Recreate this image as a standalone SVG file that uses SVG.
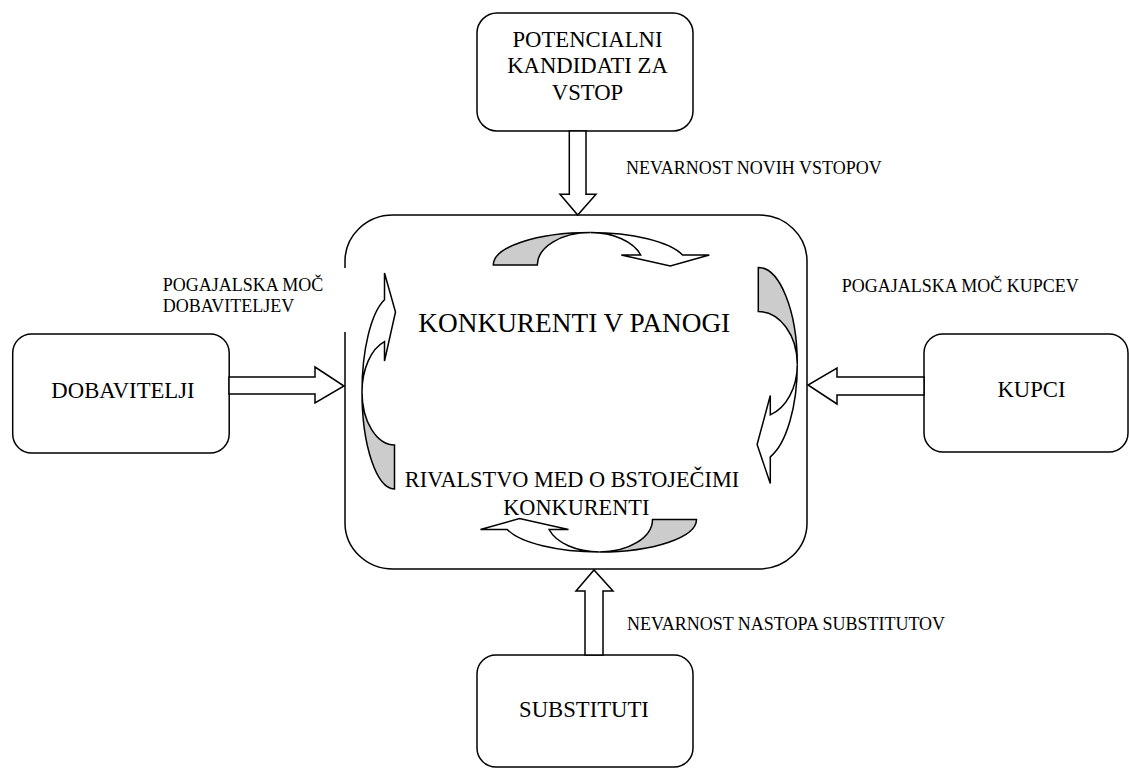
<svg xmlns="http://www.w3.org/2000/svg" xmlns:xlink="http://www.w3.org/1999/xlink" width="1129" height="769" viewBox="0 0 1129 769" font-family="'Liberation Serif', 'DejaVu Serif', serif">
  <style>
    .box { fill: #ffffff; stroke: #000000; stroke-width: 1.5; }
    .blk { fill: #ffffff; stroke: #000000; stroke-width: 1.5; stroke-linejoin: miter; }
    .back { fill: #cccccc; stroke: #000000; stroke-width: 1.5; }
    .front { fill: #ffffff; stroke: #000000; stroke-width: 1.5; }
    .t { font-family: 'Liberation Serif', 'DejaVu Serif', serif; fill: #000000; }
    .node { font-size: 22.7px; text-anchor: middle; }
    .lbl { font-size: 18px; }
    .big { font-size: 27.3px; }
    .mid { font-size: 22.3px; text-anchor: middle; }
  </style>
  <defs>
    <!-- curved arrow: shaded back band on the left, front band ending in a downward head -->
    <g id="curl">
      <path class="back" d="M-97,0 A97,32.5 0 0 1 0,-32.5 A53,32.5 0 0 0 -53,0 Z"/>
      <path class="front" d="M0,-32.5 A97,32.5 0 0 1 92.3,-10 L119,-10 L80,1 L31,-10 L50.4,-10 A53,32.5 0 0 0 0,-32.5 Z"/>
    </g>
    <g id="curl-tall">
      <path class="back" d="M-97,0 A97,39 0 0 1 0,-39 A53,39 0 0 0 -53,0 Z"/>
      <path class="front" d="M0,-39 A97,39 0 0 1 92.3,-12 L119,-12 L80,1.2 L31,-12 L50.4,-12 A53,39 0 0 0 0,-39 Z"/>
    </g>
  </defs>

  <rect width="1129" height="769" fill="#ffffff"/>

  <!-- central node: industry competitors -->
  <g id="node-industry">
    <rect class="box" x="345" y="215" width="462" height="354" rx="48" ry="46"/>
    <use xlink:href="#curl" transform="translate(590.3,265)"/>
    <use xlink:href="#curl-tall" transform="translate(758.3,364.5) rotate(90)"/>
    <use xlink:href="#curl" transform="translate(599.5,519.5) rotate(180)"/>
    <use xlink:href="#curl" transform="translate(394.5,392) rotate(-90)"/>
    <text class="t big" x="418.3" y="332">KONKURENTI V PANOGI</text>
    <text class="t mid" x="572" y="487">RIVALSTVO MED O BSTOJEČIMI</text>
    <text class="t mid" x="576.3" y="515">KONKURENTI</text>
  </g>

  <!-- supplier power label sits on a white plate over the central frame -->
  <g id="label-suppliers">
    <rect x="155" y="268" width="193" height="64" fill="#ffffff"/>
    <text class="t lbl" x="162.7" y="291">POGAJALSKA MOČ</text>
    <text class="t lbl" x="162.7" y="312">DOBAVITELJEV</text>
  </g>

  <g id="node-entrants">
    <rect class="box" x="477" y="13" width="216" height="118" rx="20"/>
    <text class="t node" x="587.5" y="47">POTENCIALNI</text>
    <text class="t node" x="587.5" y="73">KANDIDATI ZA</text>
    <text class="t node" x="587.5" y="99.5">VSTOP</text>
  </g>

  <g id="node-suppliers">
    <rect class="box" x="12.7" y="334" width="216.5" height="119" rx="19"/>
    <text class="t node" x="123" y="398">DOBAVITELJI</text>
  </g>

  <g id="node-buyers">
    <rect class="box" x="924" y="334" width="204" height="118" rx="19"/>
    <text class="t node" x="1031.5" y="397">KUPCI</text>
  </g>

  <g id="node-substitutes">
    <rect class="box" x="477" y="655" width="216" height="112" rx="19"/>
    <text class="t node" x="584" y="717">SUBSTITUTI</text>
  </g>

  <!-- block arrows between the outer forces and the industry -->
  <g id="connectors">
    <polygon class="blk" points="569.3,131 586,131 586,194.3 596,194.3 577.7,215 560,194.3 569.3,194.3"/>
    <polygon class="blk" points="585,655 585,591 576,591 594,570 613,591 603,591 603,655"/>
    <polygon class="blk" points="229,377 315,377 315,367 344,386 315,403 315,394 229,394"/>
    <polygon class="blk" points="924,377 837,377 837,368 808,385 837,404 837,395 924,395"/>
    <text class="t lbl" x="626" y="174">NEVARNOST NOVIH VSTOPOV</text>
    <text class="t lbl" x="841.7" y="291.5">POGAJALSKA MOČ KUPCEV</text>
    <text class="t lbl" x="627" y="630">NEVARNOST NASTOPA SUBSTITUTOV</text>
  </g>
</svg>
